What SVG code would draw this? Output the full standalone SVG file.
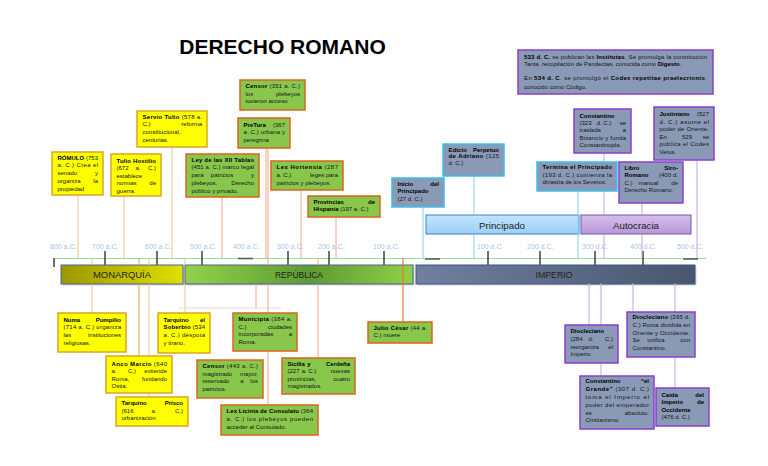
<svg xmlns="http://www.w3.org/2000/svg" width="768" height="466" viewBox="0 0 768 466">
<defs>
<style>
.t{font-family:"Liberation Sans",Arial,sans-serif;font-size:6px;fill:#151515}
.b{font-weight:bold;fill:#000}
.e{text-anchor:end}
.m{text-anchor:middle}
.yb{fill:#ffff00;stroke:#dca526;stroke-width:1.5}
.gb{fill:#88c74c;stroke:#d9651e;stroke-width:1.5}
.cb{fill:#8a9ab6;stroke:#3cbfec;stroke-width:1.5}
.pb{fill:#8a9ab6;stroke:#8c3fca;stroke-width:1.5}
.tl{font-family:"Liberation Sans",Arial,sans-serif;font-size:7px;fill:#a6c6ea}
.tk{stroke:#333;stroke-width:1.4;fill:none}
.bl{font-family:"Liberation Sans",Arial,sans-serif;font-size:9.5px;fill:#1e1e1e;text-anchor:middle}
.sh{fill:#000;opacity:0.18}
.c{fill:none;stroke-width:1}
.cy{stroke:#ebc58f}
.cy2{stroke:#d9a640}
.cyh{stroke:#f2d8c6}
.cg{stroke:#f2a88a}
.cj{stroke:#e4783a;stroke-width:1.2}
.cc{stroke:#82d4f0}
.cp{stroke:#c7a3e0}
</style>
<linearGradient id="gMon" x1="0" y1="0" x2="1" y2="0">
<stop offset="0" stop-color="#9a9800"/><stop offset="1" stop-color="#e0e000"/>
</linearGradient>
<linearGradient id="gRep" x1="0" y1="0" x2="1" y2="0">
<stop offset="0" stop-color="#92d24a"/><stop offset="0.55" stop-color="#5e9a34"/><stop offset="1" stop-color="#8fd046"/>
</linearGradient>
<linearGradient id="gImp" x1="0" y1="0" x2="1" y2="0">
<stop offset="0" stop-color="#7080a0"/><stop offset="1" stop-color="#4a566e"/>
</linearGradient>
<linearGradient id="gPri" x1="0" y1="0" x2="0" y2="1">
<stop offset="0" stop-color="#c2e5fc"/><stop offset="1" stop-color="#9ccff5"/>
</linearGradient>
<linearGradient id="gAut" x1="0" y1="0" x2="0" y2="1">
<stop offset="0" stop-color="#d6bdeb"/><stop offset="1" stop-color="#b798d8"/>
</linearGradient>
</defs>
<rect width="768" height="466" fill="#ffffff"/>

<text x="282.5" y="54" text-anchor="middle" font-family="'Liberation Sans',Arial,sans-serif" font-size="21" font-weight="bold" fill="#000">DERECHO ROMANO</text>

<g id="axis">
<line x1="54" y1="258.5" x2="706" y2="258.5" stroke="#8ee0a4" stroke-width="1"/>
<path class="tk" d="M54 258 V267 M105 251 V265 M157 251 V265 M202 251 V265 M288 251 V265 M329 251 V265 M384 251 V265 M488 251 V265 M540 251 V265 M595 251 V265 M643 251 V265"/>
<path d="M238 258.5 H253 M425 259 H440 M683 259 H698" stroke="#555" stroke-width="1.6" fill="none"/>
<text class="tl" x="50" y="248.5">800 a.C.</text>
<text class="tl" x="92" y="248.5">700 a.C.</text>
<text class="tl" x="145" y="248.5">600 a.C.</text>
<text class="tl" x="190" y="248.5">500 a.C.</text>
<text class="tl" x="233" y="248.5">400 a.C.</text>
<text class="tl" x="277" y="248.5">300 a.C.</text>
<text class="tl" x="318" y="248.5">200 a.C.</text>
<text class="tl" x="373" y="248.5">100 a.C.</text>
<text class="tl" x="477" y="248.5">100 d.C</text>
<text class="tl" x="527" y="248.5">200 d.C.</text>
<text class="tl" x="582" y="248.5">300 d.C.</text>
<text class="tl" x="630" y="248.5">400 d.C.</text>
<text class="tl" x="677" y="248.5">500 d.C.</text>
</g>

<g id="monarquia">
<rect class="sh" x="62.5" y="266.5" width="122" height="19"/>
<rect x="61" y="265" width="122" height="19" fill="url(#gMon)" stroke="#4d5f96" stroke-width="1"/>
<text class="bl" x="122" y="278.3" textLength="58" lengthAdjust="spacingAndGlyphs">MONARQUÍA</text>
</g>
<g id="republica">
<rect class="sh" x="186.5" y="266.5" width="228" height="19"/>
<rect x="185" y="265" width="228" height="19" fill="url(#gRep)" stroke="#4d5f96" stroke-width="1"/>
<text class="bl" x="299" y="278.3" textLength="48" lengthAdjust="spacingAndGlyphs">REPÚBLICA</text>
</g>
<g id="imperio">
<rect class="sh" x="417.5" y="266.5" width="279" height="19"/>
<rect x="416" y="265" width="279" height="19" fill="url(#gImp)" stroke="#3d5788" stroke-width="1"/>
<text class="bl" x="554" y="278.3" textLength="37" lengthAdjust="spacingAndGlyphs" fill="#111">IMPERIO</text>
</g>
<g id="principado">
<rect x="426" y="215" width="153" height="19" fill="url(#gPri)" stroke="#3f7fc8" stroke-width="1"/>
<text class="bl" x="502" y="228.5" font-size="10" textLength="46" lengthAdjust="spacingAndGlyphs">Principado</text>
</g>
<g id="autocracia">
<rect x="581" y="215" width="110" height="19" fill="url(#gAut)" stroke="#6a5aa8" stroke-width="1"/>
<text class="bl" x="636" y="228.5" font-size="10" textLength="46" lengthAdjust="spacingAndGlyphs">Autocracia</text>
</g>

<g id="connectors">
<path class="c cy" d="M78 195 V258 M124 196 V258 M172 147 V258 M92 258 V265 M92 284 V313 M149 258 V265 M149 284 V397 M185 258 V265 M185 284 V313"/>
<path class="c cy2" d="M139 258 V265 M139 284 V356"/>
<path class="c cyh" d="M178 308 H281"/>
<path class="c cg" d="M222 197 V258 M266 148 V258 M268 148 V265 M268 284 V405 M256 284 V308 M301 190 V258 M336 217 V258 M318 258 V265 M318 284 V358"/>
<path class="c cj" d="M403 258 V322"/>
<path class="c cc" d="M423 207 V258 M474 176 V215 M474 234 V258 M578 191 V258"/>
<path class="c cp" d="M604 153 V215 M604 234 V258 M642 203 V215 M642 234 V258 M697 160 V258 M589 283 V325 M601 283 V376 M633 283 V312 M675 283 V388"/>
</g>

<g id="romulo">
<rect class="yb" x="52" y="152" width="51" height="43"/>
<text class="t b" x="57.5" y="159.5">RÓMULO</text><text class="t e" x="98" y="159.5">(753</text>
<text class="t" x="57.5" y="167.3" textLength="40.5" lengthAdjust="spacing">a. C.) Crea el</text>
<text class="t" x="57.5" y="175.1">senado</text><text class="t e" x="98" y="175.1">y</text>
<text class="t" x="57.5" y="182.9">organiza</text><text class="t e" x="98" y="182.9">la</text>
<text class="t" x="57.5" y="190.7">propiedad</text>
</g>

<g id="tulio-hostilio">
<rect class="yb" x="111" y="154" width="50" height="42"/>
<text class="t b" x="116.5" y="162.5" textLength="39.5" lengthAdjust="spacing">Tulio Hostilio</text>
<text class="t" x="116.5" y="170">(672</text><text class="t m" x="138" y="170">a.</text><text class="t e" x="156" y="170">C.)</text>
<text class="t" x="116.5" y="177.5">establece</text>
<text class="t" x="116.5" y="185">normas</text><text class="t e" x="156" y="185">de</text>
<text class="t" x="116.5" y="192.5">guerra.</text>
</g>

<g id="servio-tulio">
<rect class="yb" x="137" y="111" width="70" height="36"/>
<text class="t" x="142.5" y="118.5" textLength="59.5" lengthAdjust="spacing"><tspan class="b">Servio Tulio</tspan> (578 a.</text>
<text class="t" x="142.5" y="126.3">C.)</text><text class="t e" x="202" y="126.3">reforma</text>
<text class="t" x="142.5" y="134.1">constitucional,</text>
<text class="t" x="142.5" y="141.9">centurias.</text>
</g>

<g id="ley-xii-tablas">
<rect class="gb" x="186" y="154" width="73" height="43"/>
<text class="t b" x="191.5" y="161.5" textLength="62.5" lengthAdjust="spacing">Ley de las XII Tablas</text>
<text class="t" x="191.5" y="169.3" textLength="62.5" lengthAdjust="spacing">(451 a. C.) marco legal</text>
<text class="t" x="191.5" y="177.1">para</text><text class="t m" x="222" y="177.1">patricios</text><text class="t e" x="254" y="177.1">y</text>
<text class="t" x="191.5" y="184.9">plebeyos.</text><text class="t e" x="254" y="184.9">Derecho</text>
<text class="t" x="191.5" y="192.7">público y privado.</text>
</g>

<g id="censor-351">
<rect class="gb" x="240" y="80" width="65" height="30"/>
<text class="t" x="245.5" y="88" textLength="54.5" lengthAdjust="spacing"><tspan class="b">Censor</tspan> (351 a. C.)</text>
<text class="t" x="245.5" y="95.8">los</text><text class="t e" x="300" y="95.8">plebeyos</text>
<text class="t" x="245.5" y="103.4">tuvieron acceso</text>
</g>

<g id="pretura">
<rect class="gb" x="238" y="118" width="52" height="30"/>
<text class="t b" x="243.5" y="126.5">PreTura</text><text class="t e" x="285" y="126.5">(367</text>
<text class="t" x="243.5" y="134.3" textLength="41.5" lengthAdjust="spacing">a. C.) urbana y</text>
<text class="t" x="243.5" y="142">peregrina</text>
</g>

<g id="lex-hortensia">
<rect class="gb" x="271" y="161" width="72" height="29"/>
<text class="t" x="276.5" y="168.5" textLength="61.5" lengthAdjust="spacing"><tspan class="b">Lex Hortensia</tspan> (287</text>
<text class="t" x="276.5" y="176.8">a. C.)</text><text class="t e" x="338" y="176.8">leges para</text>
<text class="t" x="276.5" y="185">patricios y plebeyos.</text>
</g>

<g id="provincias-hispania">
<rect class="gb" x="308" y="196" width="72" height="21"/>
<text class="t b" x="313.5" y="203.8">Provincias</text><text class="t b e" x="375" y="203.8">de</text>
<text class="t" x="313.5" y="211.3"><tspan class="b">Hispania</tspan> (197 a. C.)</text>
</g>

<g id="inicio-principado">
<rect class="cb" x="392" y="178" width="52" height="29"/>
<text class="t b" x="397.5" y="185.5">Inicio</text><text class="t b e" x="439" y="185.5">del</text>
<text class="t b" x="397.5" y="193.3">Principado</text>
<text class="t" x="397.5" y="201">(27 d. C.)</text>
</g>

<g id="edicto-perpetuo">
<rect class="cb" x="443" y="144" width="61" height="32"/>
<text class="t b" x="448.5" y="152">Edicto</text><text class="t b e" x="499" y="152">Perpetuo</text>
<text class="t" x="448.5" y="158.3" textLength="50.5" lengthAdjust="spacing"><tspan class="b">de Adriano</tspan> (125</text>
<text class="t" x="448.5" y="164.6">d. C.)</text>
</g>

<g id="institutas-digesto">
<rect class="pb" x="518" y="50" width="195" height="44"/>
<text class="t" x="524" y="58.8" textLength="183" lengthAdjust="spacing"><tspan class="b">533 d. C.</tspan> se publican las <tspan class="b">Institutas</tspan>. Se promulga la constitución</text>
<text class="t" x="524" y="66.4">Tanta, recopilación de Pandectas, conocida como <tspan class="b">Digesto</tspan>.</text>
<text class="t" x="524" y="80.4" textLength="183" lengthAdjust="spacing">En <tspan class="b">534 d. C</tspan>. se promulgó el <tspan class="b">Codex repetitae praelecrionis</tspan>,</text>
<text class="t" x="524" y="88.6">conocido como Código.</text>
</g>

<g id="constantino-323">
<rect class="pb" x="574" y="109" width="57" height="44"/>
<text class="t b" x="579.5" y="117.7">Constantino</text>
<text class="t" x="579.5" y="125">(323</text><text class="t m" x="604" y="125">d. C.)</text><text class="t e" x="626" y="125">se</text>
<text class="t" x="579.5" y="132.4">traslada</text><text class="t e" x="626" y="132.4">a</text>
<text class="t" x="579.5" y="139.9" textLength="46.5" lengthAdjust="spacing">Bizancio y funda</text>
<text class="t" x="579.5" y="147.3">Constantinopla.</text>
</g>

<g id="justiniano">
<rect class="pb" x="654" y="107" width="60" height="53"/>
<text class="t b" x="659.5" y="116">Justiniano</text><text class="t e" x="709" y="116">(527</text>
<text class="t" x="659.5" y="123.6" textLength="49.5" lengthAdjust="spacing">d. C.) asume el</text>
<text class="t" x="659.5" y="131.2" textLength="49.5" lengthAdjust="spacing">poder de Oriente.</text>
<text class="t" x="659.5" y="138.8">En</text><text class="t m" x="687" y="138.8">529</text><text class="t e" x="709" y="138.8">se</text>
<text class="t" x="659.5" y="146.4" textLength="49.5" lengthAdjust="spacing">publica el Codes</text>
<text class="t" x="659.5" y="154">Vetus.</text>
</g>

<g id="termina-principado">
<rect class="cb" x="537" y="162" width="80" height="29"/>
<text class="t b" x="542.5" y="169" textLength="69.5" lengthAdjust="spacing">Termina el Principado</text>
<text class="t" x="542.5" y="176.5" textLength="69.5" lengthAdjust="spacing">(193 d. C.) comienza la</text>
<text class="t" x="542.5" y="184">dinastía de los Severos.</text>
</g>

<g id="libro-siro-romano">
<rect class="pb" x="619" y="162" width="64" height="41"/>
<text class="t b" x="624.5" y="169.5">Libro</text><text class="t b e" x="678" y="169.5">Siro-</text>
<text class="t b" x="624.5" y="177">Romano</text><text class="t e" x="671" y="177">(400</text><text class="t e" x="678" y="177">d.</text>
<text class="t" x="624.5" y="184.5">C.)</text><text class="t m" x="648.5" y="184.5">manual</text><text class="t e" x="678" y="184.5">de</text>
<text class="t" x="624.5" y="192">Derecho Romano.</text>
</g>

<g id="numa-pumpilio">
<rect class="yb" x="58" y="313" width="68" height="39"/>
<text class="t b" x="63.5" y="321.5">Numa</text><text class="t b e" x="121" y="321.5">Pumpilio</text>
<text class="t" x="63.5" y="329.3" textLength="57.5" lengthAdjust="spacing">(714 a. C.) organiza</text>
<text class="t" x="63.5" y="337">las</text><text class="t e" x="121" y="337">instituciones</text>
<text class="t" x="63.5" y="344.7">religiosas.</text>
</g>

<g id="tarquino-soberbio">
<rect class="yb" x="158" y="313" width="52" height="40"/>
<text class="t b" x="163.5" y="321.5">Tarquino</text><text class="t b e" x="205" y="321.5">el</text>
<text class="t" x="163.5" y="329.3" textLength="41.5" lengthAdjust="spacing"><tspan class="b">Soberbio</tspan> (534</text>
<text class="t" x="163.5" y="337" textLength="41.5" lengthAdjust="spacing">a. C.) déspota</text>
<text class="t" x="163.5" y="344.7">y tirano.</text>
</g>

<g id="anco-marcio">
<rect class="yb" x="106" y="356" width="66" height="37"/>
<text class="t" x="111.5" y="365.5" textLength="55.5" lengthAdjust="spacing"><tspan class="b">Anco Marcio</tspan> (640</text>
<text class="t" x="111.5" y="373.2">a.</text><text class="t m" x="132" y="373.2">C.)</text><text class="t e" x="167" y="373.2">extiende</text>
<text class="t" x="111.5" y="380.8">Roma,</text><text class="t e" x="167" y="380.8">fundando</text>
<text class="t" x="111.5" y="388.4">Ostia.</text>
</g>

<g id="tarquino-prisco">
<rect class="yb" x="116" y="397" width="72" height="29"/>
<text class="t b" x="121.5" y="405">Tarquino</text><text class="t b e" x="183" y="405">Prisco</text>
<text class="t" x="121.5" y="412.5">(616</text><text class="t m" x="154" y="412.5">a.</text><text class="t e" x="183" y="412.5">C.)</text>
<text class="t" x="121.5" y="420">urbanización</text>
</g>

<g id="censor-443">
<rect class="gb" x="197" y="360" width="66" height="38"/>
<text class="t" x="202.5" y="368" textLength="55.5" lengthAdjust="spacing"><tspan class="b">Censor</tspan> (443 a. C.)</text>
<text class="t" x="202.5" y="375.5">magistrado</text><text class="t e" x="258" y="375.5">mayor,</text>
<text class="t" x="202.5" y="383">reservado</text><text class="t m" x="242" y="383">a</text><text class="t e" x="258" y="383">los</text>
<text class="t" x="202.5" y="390.5">patricios.</text>
</g>

<g id="municipia">
<rect class="gb" x="233" y="313" width="64" height="38"/>
<text class="t" x="238.5" y="320.5" textLength="53.5" lengthAdjust="spacing"><tspan class="b">Municipia</tspan> (384 a.</text>
<text class="t" x="238.5" y="328.5">C.)</text><text class="t e" x="292" y="328.5">ciudades</text>
<text class="t" x="238.5" y="336.3">incorporadas</text><text class="t e" x="292" y="336.3">a</text>
<text class="t" x="238.5" y="344">Roma.</text>
</g>

<g id="sicilia-cerdena">
<rect class="gb" x="282" y="358" width="73" height="36"/>
<text class="t b" x="287.5" y="365.5">Sicilia</text><text class="t b m" x="309" y="365.5">y</text><text class="t b e" x="350" y="365.5">Cerdeña</text>
<text class="t" x="287.5" y="373">(227</text><text class="t m" x="309" y="373">a. C.)</text><text class="t e" x="350" y="373">nuevas</text>
<text class="t" x="287.5" y="380.5">provincias,</text><text class="t e" x="350" y="380.5">cuatro</text>
<text class="t" x="287.5" y="388">magistrados.</text>
</g>

<g id="lex-licinia">
<rect class="gb" x="221" y="405" width="97" height="30"/>
<text class="t" x="226.5" y="413" textLength="86.5" lengthAdjust="spacing"><tspan class="b">Lex Licinia de Consulatu</tspan> (364</text>
<text class="t" x="226.5" y="420.8" textLength="86.5" lengthAdjust="spacing">a. C.) los plebeyos pueden</text>
<text class="t" x="226.5" y="428.5">acceder al Consulado.</text>
</g>

<g id="julio-cesar">
<rect class="gb" x="368" y="322" width="64" height="21"/>
<text class="t" x="373.5" y="329.5" textLength="53.5" lengthAdjust="spacing"><tspan class="b">Julio César</tspan> (44 a.</text>
<text class="t" x="373.5" y="337">C.) muere</text>
</g>

<g id="diocleciano-284">
<rect class="pb" x="565" y="325" width="53" height="38"/>
<text class="t b" x="570.5" y="333">Diocleciano</text>
<text class="t" x="570.5" y="341">(284</text><text class="t m" x="591" y="341">d.</text><text class="t e" x="613" y="341">C.)</text>
<text class="t" x="570.5" y="348.7">reorganiza</text><text class="t e" x="613" y="348.7">el</text>
<text class="t" x="570.5" y="356.2">Imperio</text>
</g>

<g id="diocleciano-395">
<rect class="pb" x="627" y="312" width="68" height="45"/>
<text class="t" x="632.5" y="319.2" textLength="57.5" lengthAdjust="spacing"><tspan class="b">Diocleciano</tspan> (395 d.</text>
<text class="t" x="632.5" y="326.8" textLength="57.5" lengthAdjust="spacing">C.) Roma dividida en</text>
<text class="t" x="632.5" y="334.5" textLength="57.5" lengthAdjust="spacing">Oriente y Occidente.</text>
<text class="t" x="632.5" y="342">Se</text><text class="t m" x="656" y="342">unifica</text><text class="t e" x="690" y="342">con</text>
<text class="t" x="632.5" y="349.7">Constantino.</text>
</g>

<g id="constantino-el-grande">
<rect class="pb" x="580" y="376" width="74" height="53"/>
<text class="t b" x="585.5" y="383.3">Constantino</text><text class="t b e" x="649" y="383.3">“el</text>
<text class="t" x="585.5" y="391.2" textLength="63.5" lengthAdjust="spacing"><tspan class="b">Grande”</tspan> (307 d. C.)</text>
<text class="t" x="585.5" y="398.9" textLength="63.5" lengthAdjust="spacing">toma el Imperio el</text>
<text class="t" x="585.5" y="406.7" textLength="63.5" lengthAdjust="spacing">poder del emperador</text>
<text class="t" x="585.5" y="414.5">es</text><text class="t e" x="649" y="414.5">absoluto.</text>
<text class="t" x="585.5" y="422.2">Cristianismo</text>
</g>

<g id="caida-occidente">
<rect class="pb" x="656" y="388" width="53" height="38"/>
<text class="t b" x="661.5" y="396.5">Caída</text><text class="t b e" x="704" y="396.5">del</text>
<text class="t b" x="661.5" y="404">Imperio</text><text class="t b e" x="704" y="404">de</text>
<text class="t b" x="661.5" y="411.5">Occidente</text>
<text class="t" x="661.5" y="419.2">(476 d. C.)</text>
</g>
</svg>
